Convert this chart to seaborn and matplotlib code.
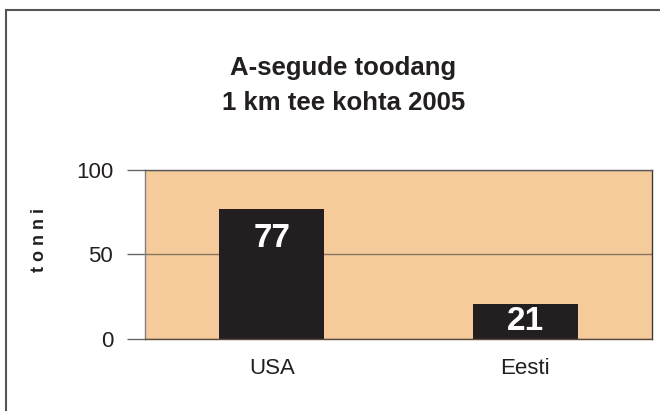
import matplotlib
matplotlib.use("Agg")
import matplotlib.pyplot as plt
import matplotlib.patches as patches
import seaborn as sns

# andmed
riigid = ["USA", "Eesti"]
toodang = [77, 21]
y_ticks = [0, 50, 100]

taust = "#F6CB9B"
tume = "#231F20"

sns.set_style("white")
plt.rcParams["font.family"] = ["Liberation Sans", "DejaVu Sans"]

fig = plt.figure(figsize=(6.6, 4.11), dpi=100)
ax = fig.add_axes([145 / 660, 1 - 339 / 411, 507 / 660, 169 / 411])
ax.set_facecolor(taust)

sns.barplot(x=riigid, y=toodang, color=tume, saturation=1, width=0.415,
            linewidth=0, ax=ax)

ax.set_ylim(0, 100)
ax.set_xlim(-0.5, 1.5)
ax.set_yticks(y_ticks)
ax.yaxis.grid(True, color="#8a7560", lw=1)
ax.set_axisbelow(True)
ax.set_xlabel("")
ax.set_ylabel("")

# kategooriate piiridel olevad kriipsud
ax.set_xticks([-0.5, 0.5, 1.5], minor=True)
ax.tick_params(axis="x", which="minor", length=8, width=1, color="#555555", direction="out")
ax.tick_params(axis="x", which="major", length=0, pad=14, labelsize=16, labelcolor=tume)
ax.tick_params(axis="y", length=13, width=1, color="#666666", pad=10, labelsize=16,
               labelcolor=tume, left=True)

for side in ["left", "bottom", "top", "right"]:
    ax.spines[side].set_visible(True)
    ax.spines[side].set_linewidth(1)
ax.spines["left"].set_color("#808080")
ax.spines["bottom"].set_color("#5a4a3a")
ax.spines["top"].set_color("#5a5a5a")
ax.spines["right"].set_color("#3a3a3a")

# väärtused tulpade sees
for p, v in zip(ax.patches, toodang):
    h_pt = (ax.transData.transform((0, v))[1] - ax.transData.transform((0, 0))[1]) * 72 / fig.dpi
    off = min(21, h_pt / 2)
    ax.annotate(str(v), (p.get_x() + p.get_width() / 2, v), xytext=(0, -off),
                textcoords="offset points", ha="center", va="center",
                color="white", fontsize=24, fontweight="bold")

fig.text(0.52, 1 - 68 / 411, "A-segude toodang", ha="center", va="center",
         fontsize=18.5, fontweight="bold", color=tume)
fig.text(0.52, 1 - 103 / 411, "1 km tee kohta 2005", ha="center", va="center",
         fontsize=18.5, fontweight="bold", color=tume)
fig.text(40 / 660, 1 - 240 / 411, "t o n n i", ha="center", va="center", rotation=90,
         fontsize=13, fontweight="bold", color=tume)

# välimine raam
raam = patches.Rectangle((6 / 660, -0.1), 1.2, 1 - 10 / 411 + 0.1, transform=fig.transFigure,
                         fill=False, edgecolor="#555555", lw=1.5, clip_on=False)
fig.patches.append(raam)

fig.savefig("out.png", dpi=100)
